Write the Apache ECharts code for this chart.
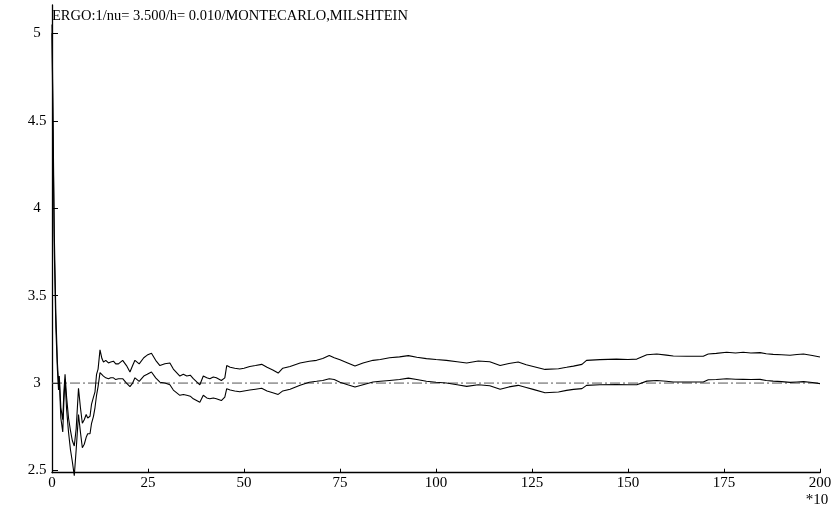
<!DOCTYPE html>
<html>
<head>
<meta charset="utf-8">
<script src="https://cdn.jsdelivr.net/npm/echarts@6/dist/echarts.min.js"></script>
<style>html,body{margin:0;padding:0;background:#fff;}#c{width:836px;height:506px;}</style>
</head>
<body>
<div id="c"></div>
<script>
var titleText = 'ERGO:1/nu= 3.500/h= 0.010/MONTECARLO,MILSHTEIN';
var xUnitText = '*10';
var yTickValues = [2.5, 3, 3.5, 4, 4.5, 5];
var refLevel = 3;
var xs = [0,0.3,0.6,1.0,1.4,1.7,1.9,2.3,2.8,3.1,3.4,3.8,4.3,4.8,5.3,5.8,6.3,6.9,7.4,7.9,8.4,8.9,9.3,9.9,10.3,10.8,11.2,11.6,12.0,12.5,
13.0,13.4,14.0,14.7,15.3,16.0,16.6,17.3,18.4,19.4,20.3,21.0,21.6,22.7,23.9,24.8,25.9,27.0,28.1,29.4,30.7,31.6,33.3,34.2,35.1,36.0,36.8,38.5,39.4,40.3,
41.1,42.0,42.8,44.1,45.0,45.5,46.4,47.6,48.9,50.0,51.5,53.0,54.6,56.0,57.5,58.9,60.1,62.0,64.6,67.0,68.9,70.5,72.2,73.5,75.0,77.0,78.9,81.0,83.6,85.5,
87.9,90.5,92.8,95.0,97.5,100.0,102.7,105.5,108.0,111.0,114.0,116.7,119.0,121.4,123.5,125.3,128.4,131.9,134.0,135.8,138.0,139.2,142.7,147.0,150.0,152.3,154.9,157.5,160.0,161.8,
165.3,169.6,170.9,173.0,175.7,178.0,180.0,182.0,184.4,186.0,187.8,190.0,192.2,194.0,195.7,198.0,200.0];
var upper = [5.05,4.45,3.85,3.40,3.12,3.00,3.04,2.86,2.79,2.95,3.05,2.92,2.80,2.73,2.67,2.64,2.74,2.97,2.86,2.77,2.79,2.82,2.80,2.81,2.88,2.92,2.95,3.05,3.08,3.19,
3.14,3.12,3.13,3.115,3.12,3.125,3.11,3.11,3.13,3.10,3.063,3.10,3.13,3.11,3.145,3.16,3.17,3.13,3.10,3.11,3.115,3.08,3.04,3.05,3.04,3.045,3.025,2.99,3.04,3.03,
3.025,3.035,3.03,3.015,3.03,3.10,3.09,3.085,3.08,3.085,3.095,3.10,3.107,3.09,3.075,3.057,3.085,3.095,3.115,3.125,3.13,3.14,3.158,3.145,3.133,3.115,3.097,3.115,3.13,3.135,
3.145,3.15,3.157,3.148,3.14,3.135,3.13,3.122,3.115,3.126,3.122,3.10,3.112,3.12,3.105,3.095,3.078,3.082,3.09,3.097,3.107,3.13,3.134,3.137,3.135,3.137,3.162,3.166,3.16,3.155,
3.153,3.153,3.166,3.17,3.176,3.172,3.176,3.172,3.174,3.168,3.164,3.162,3.159,3.163,3.166,3.158,3.149];
var lower = [5.00,4.35,3.75,3.32,3.08,2.96,3.02,2.80,2.72,2.90,3.02,2.85,2.72,2.62,2.55,2.47,2.62,2.82,2.72,2.63,2.65,2.69,2.71,2.71,2.77,2.81,2.86,2.93,2.98,3.06,
3.05,3.04,3.03,3.025,3.03,3.03,3.02,3.025,3.025,3.00,2.98,3.00,3.03,3.01,3.04,3.05,3.063,3.03,3.005,3.00,2.99,2.96,2.93,2.935,2.93,2.925,2.91,2.89,2.93,2.915,
2.91,2.915,2.91,2.90,2.92,2.968,2.96,2.955,2.95,2.955,2.96,2.965,2.97,2.955,2.945,2.935,2.955,2.965,2.987,3.005,3.01,3.015,3.025,3.02,3.005,2.99,2.977,2.99,3.006,3.01,
3.015,3.02,3.028,3.02,3.01,3.005,3.0,2.99,2.981,2.99,2.985,2.965,2.978,2.987,2.975,2.964,2.945,2.949,2.958,2.964,2.968,2.987,2.99,2.992,2.99,2.99,3.011,3.015,3.01,3.006,
3.006,3.006,3.019,3.02,3.025,3.022,3.021,3.02,3.021,3.015,3.011,3.008,3.004,3.006,3.008,3.003,2.997];

function pairs(a){ return xs.map(function(x,i){ return [x, a[i]]; }); }
var FONT = "'Liberation Serif','Times New Roman',serif";
var chart = echarts.init(document.getElementById('c'), null, {renderer:'canvas'});
chart.setOption({
  animation: false,
  backgroundColor: '#ffffff',
  grid: {left: 52, right: 16, top: 5, bottom: 33.3, containLabel: false},
  xAxis: {
    type: 'value', min: 0, max: 200, interval: 25,
    axisLine: {show: true, lineStyle: {color: '#000', width: 1.3}},
    axisTick: {show: true, inside: true, length: 4, lineStyle: {color: '#000'}},
    axisLabel: {color: '#000', fontFamily: FONT, fontSize: 15, margin: 3},
    splitLine: {show: false}
  },
  yAxis: {
    type: 'value', min: 2.4874, max: 5.162,
    axisLine: {show: true, onZero: false, lineStyle: {color: '#000', width: 1.3}},
    axisTick: {show: true, inside: true, length: 6, customValues: yTickValues, lineStyle: {color: '#000'}},
    axisLabel: {color: '#000', fontFamily: FONT, fontSize: 15, margin: 15, align: 'center', customValues: yTickValues},
    splitLine: {show: false}
  },
  series: [
    {type: 'line', data: [[0, refLevel], [200, refLevel]], symbol: 'none', silent: true,
     lineStyle: {color: '#555', width: 1, type: [10, 3, 2, 3]}},
    {type: 'line', data: pairs(upper), symbol: 'none', clip: false, lineStyle: {color: '#000', width: 1.1}},
    {type: 'line', data: pairs(lower), symbol: 'none', clip: false, lineStyle: {color: '#000', width: 1.1}}
  ],
  graphic: [
    {type: 'text', left: 52, top: 9, style: {text: titleText, fill: '#000', font: '14.5px ' + FONT}},
    {type: 'text', x: 817, y: 500, style: {text: xUnitText, fill: '#000', font: '15px ' + FONT, textAlign: 'center', textVerticalAlign: 'middle'}}
  ]
});
</script>
</body>
</html>
